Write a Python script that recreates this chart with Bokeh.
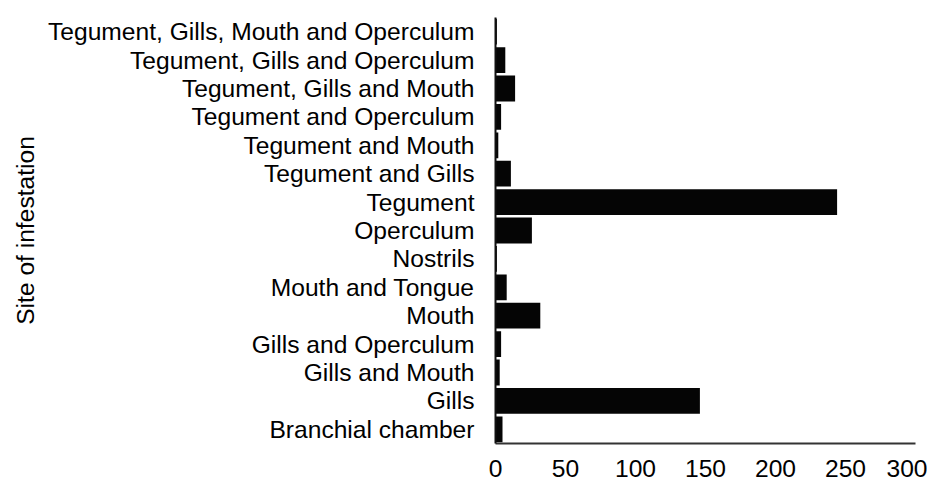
from bokeh.plotting import figure
from bokeh.models import FactorRange, Range1d, FixedTicker
from bokeh.embed import file_html
from bokeh.resources import INLINE

sites = [
    "Branchial chamber",
    "Gills",
    "Gills and Mouth",
    "Gills and Operculum",
    "Mouth",
    "Mouth and Tongue",
    "Nostrils",
    "Operculum",
    "Tegument",
    "Tegument and Gills",
    "Tegument and Mouth",
    "Tegument and Operculum",
    "Tegument, Gills and Mouth",
    "Tegument, Gills and Operculum",
    "Tegument, Gills, Mouth and Operculum",
]
counts = [5, 146, 3, 4, 32, 8, 1, 26, 244, 11, 2, 4, 14, 7, 1]
x_ticks = [0, 50, 100, 150, 200, 250, 300]

FONT = "Liberation Sans"
FS = "24.6px"

p = figure(
    width=927, height=482,
    y_range=FactorRange(*sites, range_padding=0),
    x_range=Range1d(0, 300),
    output_backend="svg", toolbar_location=None,
    min_border_left=495, min_border_right=12, min_border_top=17, min_border_bottom=39,
)
p.hbar(y=sites, right=counts, left=0, height=0.91, fill_color="#050505", line_color=None)

p.grid.visible = False
p.outline_line_color = None

p.xaxis.ticker = FixedTicker(ticks=x_ticks)
p.xaxis.major_tick_line_color = None
p.xaxis.minor_tick_line_color = None
p.xaxis.major_tick_out = 0
p.xaxis.major_label_standoff = 16
p.xaxis.axis_line_color = "#333333"
p.xaxis.axis_line_width = 2
p.xaxis.major_label_text_font = FONT
p.xaxis.major_label_text_font_size = FS
p.xaxis.major_label_text_color = "#000000"

p.yaxis.major_tick_line_color = None
p.yaxis.minor_tick_line_color = None
p.yaxis.major_tick_out = 0
p.yaxis.major_label_standoff = 21
p.yaxis.axis_line_color = "#111111"
p.yaxis.axis_line_width = 2
p.yaxis.major_label_text_font = FONT
p.yaxis.major_label_text_font_size = FS
p.yaxis.major_label_text_color = "#000000"
p.yaxis.axis_label = "Site of infestation"
p.yaxis.axis_label_text_font = FONT
p.yaxis.axis_label_text_font_size = FS
p.yaxis.axis_label_text_font_style = "normal"
p.yaxis.axis_label_text_color = "#000000"
p.yaxis.axis_label_standoff = 6

open("out.html", "w").write(file_html(p, INLINE))
